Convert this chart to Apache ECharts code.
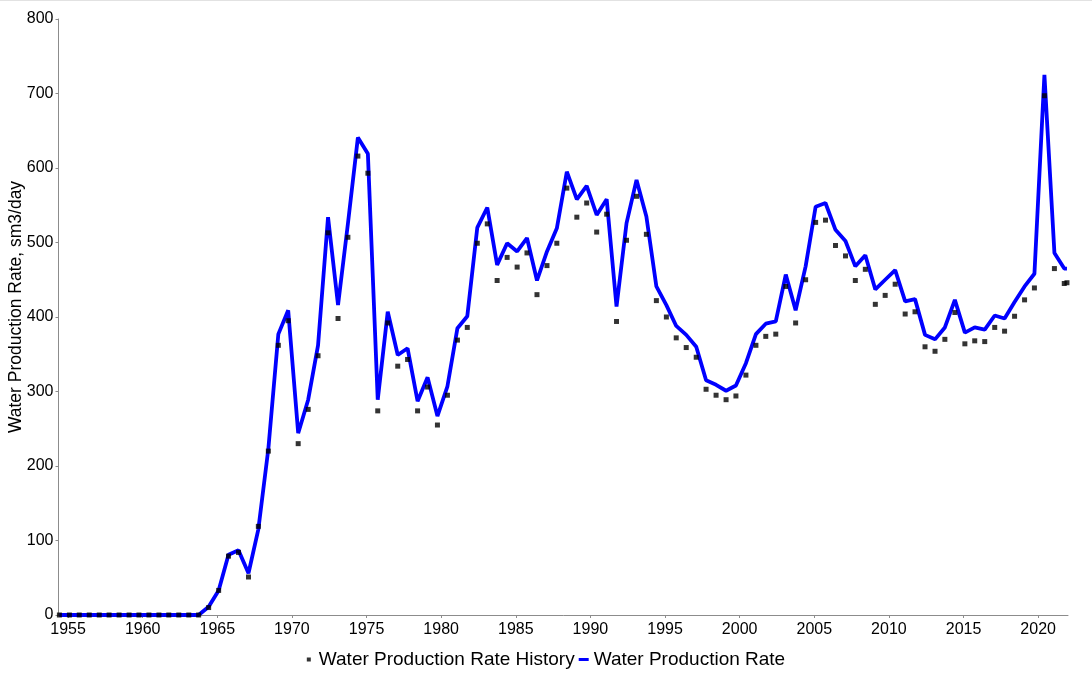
<!DOCTYPE html>
<html>
<head>
<meta charset="utf-8">
<script src="https://cdn.jsdelivr.net/npm/echarts@6/dist/echarts.min.js"></script>
<style>
  html, body { margin: 0; padding: 0; background: #ffffff; }
  #chart { width: 1092px; height: 674px; }
</style>
</head>
<body>
<div id="chart"></div>
<script>
// Dates (decimal years) of the samples
const years = [
  1954.42, 1955.09, 1955.75, 1956.42, 1957.09, 1957.75, 1958.42, 1959.09, 1959.75, 1960.42,
  1961.09, 1961.75, 1962.42, 1963.09, 1963.75, 1964.42, 1965.09, 1965.75, 1966.42, 1967.09,
  1967.75, 1968.42, 1969.09, 1969.75, 1970.42, 1971.09, 1971.75, 1972.42, 1973.09, 1973.75,
  1974.42, 1975.09, 1975.75, 1976.42, 1977.09, 1977.75, 1978.42, 1979.09, 1979.75, 1980.42,
  1981.09, 1981.75, 1982.42, 1983.09, 1983.75, 1984.42, 1985.09, 1985.75, 1986.42, 1987.09,
  1987.75, 1988.42, 1989.09, 1989.75, 1990.42, 1991.09, 1991.75, 1992.42, 1993.09, 1993.75,
  1994.42, 1995.09, 1995.75, 1996.42, 1997.09, 1997.75, 1998.42, 1999.09, 1999.75, 2000.42,
  2001.09, 2001.75, 2002.42, 2003.09, 2003.75, 2004.42, 2005.09, 2005.75, 2006.42, 2007.09,
  2007.75, 2008.42, 2009.09, 2009.75, 2010.42, 2011.09, 2011.75, 2012.42, 2013.09, 2013.75,
  2014.42, 2015.09, 2015.75, 2016.42, 2017.09, 2017.75, 2018.42, 2019.09, 2019.75, 2020.42,
  2021.09, 2021.75, 2021.93
];

// Water Production Rate History (sm3/day), black squares
const historyValues = [
  0, 0, 0, 0, 0, 0, 0, 0, 0, 0,
  0, 0, 0, 0, 0, 10, 33, 79, 84, 51,
  119, 220, 362, 395, 230, 276, 348, 513, 398, 507,
  616, 593, 274, 392, 334, 343, 274, 306, 255, 295,
  369, 386, 499, 525, 449, 480, 467, 486, 430, 469,
  499, 573, 534, 553, 514, 538, 394, 503, 562, 511,
  422, 400, 372, 359, 346, 303, 295, 289, 294, 322,
  362, 374, 377, 441, 392, 450, 527, 530, 496, 482,
  449, 464, 417, 429, 444, 404, 407, 360, 354, 370,
  406, 364, 368, 367, 386, 381, 401, 423, 439, 697,
  465, 445, 446
];

// Water Production Rate (sm3/day), blue line
const rateValues = [
  0, 0, 0, 0, 0, 0, 0, 0, 0, 0,
  0, 0, 0, 0, 0, 11, 33, 81, 87, 56,
  115, 223, 377, 409, 244, 289, 362, 534, 416, 525,
  641, 619, 289, 407, 349, 358, 287, 319, 267, 307,
  385, 401, 520, 547, 470, 499, 488, 506, 449, 488,
  519, 595, 558, 576, 537, 558, 414, 526, 584, 535,
  441, 416, 388, 376, 360, 315, 309, 301, 308, 338,
  377, 391, 394, 457, 409, 468, 548, 553, 517, 502,
  468, 483, 437, 450, 463, 421, 424, 376, 370, 386,
  423, 379, 386, 383, 402, 398, 420, 441, 458, 725,
  486, 465, 465
];

const xTickLabels = [1955, 1960, 1965, 1970, 1975, 1980, 1985, 1990, 1995, 2000, 2005, 2010, 2015, 2020];
const yTickLabels = [0, 100, 200, 300, 400, 500, 600, 700, 800];

const historyName = 'Water Production Rate History';
const rateName = 'Water Production Rate';

const chart = echarts.init(document.getElementById('chart'), null, { renderer: 'canvas' });

const font = '"Liberation Sans", Arial, sans-serif';
const axisGray = '#8c8c8c';

chart.setOption({
  animation: false,
  backgroundColor: '#ffffff',
  textStyle: { fontFamily: font },
  graphic: [
    {
      type: 'line',
      shape: { x1: 0, y1: 0.5, x2: 1092, y2: 0.5 },
      style: { stroke: '#e2e2e2', lineWidth: 1 },
      silent: true
    }
  ],
  grid: {
    left: 58.5, right: 24, top: 19, bottom: 59,
    containLabel: false,
    outerBoundsMode: 'none'
  },
  legend: {
    top: 645,
    left: 'center',
    itemWidth: 10,
    itemHeight: 4,
    itemGap: 4,
    textStyle: { fontFamily: font, fontSize: 19, color: '#000' },
    data: [
      { name: historyName, icon: 'path://M0,0h10v10h-10z', itemStyle: { color: '#000' } },
      { name: rateName, icon: 'path://M0,0h10v3h-10z', itemStyle: { color: '#0000ff' } }
    ]
  },
  xAxis: {
    type: 'value',
    min: 1954.36,
    max: 2022.0,
    splitLine: { show: false },
    axisLine: { show: true, lineStyle: { color: axisGray, width: 1 } },
    axisTick: {
      show: true, inside: false, length: 3,
      lineStyle: { color: axisGray },
      customValues: xTickLabels
    },
    axisLabel: {
      customValues: xTickLabels,
      formatter: function (v) { return String(Math.round(v)); },
      fontFamily: font, fontSize: 16, color: '#000', margin: 7
    }
  },
  yAxis: {
    type: 'value',
    min: 0,
    max: 800,
    interval: 100,
    name: 'Water Production Rate, sm3/day',
    nameLocation: 'middle',
    nameRotate: 90,
    nameGap: 33,
    nameMoveOverlap: false,
    nameTextStyle: { fontFamily: font, fontSize: 17.5, color: '#000', padding: [0, 0, 0, 20] },
    splitLine: { show: false },
    axisLine: { show: true, lineStyle: { color: axisGray, width: 1 } },
    axisTick: { show: true, inside: false, length: 3, lineStyle: { color: axisGray } },
    axisLabel: {
      customValues: yTickLabels,
      formatter: function (v) { return String(v); },
      fontFamily: font, fontSize: 16, color: '#000', margin: 5
    }
  },
  series: [
    {
      name: historyName,
      type: 'scatter',
      symbol: 'rect',
      symbolSize: 5,
      itemStyle: { color: '#000' },
      z: 5,
      data: years.map(function (y, i) { return [y, historyValues[i]]; })
    },
    {
      name: rateName,
      type: 'line',
      showSymbol: false,
      symbol: 'none',
      lineStyle: { color: '#0000ff', width: 3.8 },
      itemStyle: { color: '#0000ff' },
      z: 3,
      data: years.map(function (y, i) { return [y, rateValues[i]]; })
    }
  ]
});
</script>
</body>
</html>
